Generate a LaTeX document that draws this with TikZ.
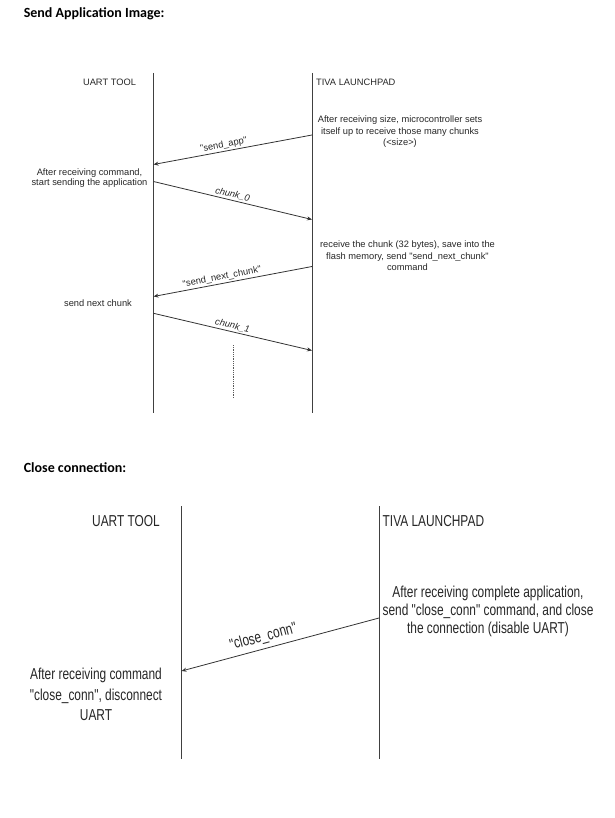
\documentclass[tikz,border=0pt]{standalone}
\usepackage{fontspec}
\setmainfont{Liberation Sans}[Ligatures=TeXOff]
\newfontfamily\headfont{Carlito}
\usepackage{graphicx}
\usetikzlibrary{arrows.meta}

\newcommand{\tallbox}[1]{\scalebox{1}[1.33]{\begin{tabular}{@{}c@{}}#1\end{tabular}}}

\tikzset{
  lifeline/.style={draw=black!75, line width=0.8pt},
  msg/.style={draw=black!80, line width=0.8pt, ->},
  small/.style={font=\fontsize{9.3}{11.5}\selectfont, text=black!85, inner sep=1pt},
  large/.style={font=\fontsize{11.9}{13.5}\selectfont, text=black!85, inner sep=1pt},
  heading/.style={font=\headfont\bfseries\fontsize{14}{16}\selectfont, anchor=west, inner sep=0pt},
  lbl/.style={sloped, above, inner sep=1.5pt}
}

\begin{document}
\begin{tikzpicture}[x=1pt, y=-1pt, >={Stealth[length=5pt,width=4pt]}]
\useasboundingbox (0,0) rectangle (614,818);

%%%%------------Send Application Image----------------%%
\node [heading] (headA) at (23.6,14) {Send Application Image:}			;

\node [small] (uartA) at (109.5,82) {UART TOOL}						;
\node [small, anchor=west] (tivaA) at (315,82) {TIVA LAUNCHPAD}		;

\coordinate (uartAtop) at (153.5,73)	; \coordinate (uartAbot) at (153.5,413)	;
\coordinate (tivaAtop) at (312,73)		; \coordinate (tivaAbot) at (312,413)	;
\draw [lifeline] (uartAtop) -- (uartAbot)								;
\draw [lifeline] (tivaAtop) -- (tivaAbot)								;

\node [small, align=center] (sizeNote) at (400,132)
  {After receiving size, microcontroller sets\\itself up to receive those many chunks\\(<size>)}	;
\coordinate (sendAppA) at (312,135)	; \coordinate (sendAppB) at (153.5,164.5)	;
\draw [msg] (sendAppA) -- node [small, lbl, pos=0.55] {"send\_app"} (sendAppB)	;

\node [small, align=center, font=\fontsize{9.3}{10.8}\selectfont] (startNote) at (89.5,178)
  {After receiving command,\\start sending the application}			;
\coordinate (chunkZeroA) at (153.5,181.5)	; \coordinate (chunkZeroB) at (312,219.5)	;
\draw [msg] (chunkZeroA) -- node [small, lbl, pos=0.49] {\itshape chunk\_0} (chunkZeroB)	;

\node [small, align=center] (chunkNote) at (407.5,255.7)
  {receive the chunk (32 bytes), save into the\\flash memory, send "send\_next\_chunk"\\command}	;
\coordinate (nextA) at (312,266.5)	; \coordinate (nextB) at (153.5,296.5)	;
\draw [msg] (nextA) -- node [small, lbl, pos=0.56] {"send\_next\_chunk"} (nextB)	;

\node [small] (nextNote) at (98,302.7) {send next chunk}					;
\coordinate (chunkOneA) at (153.5,313.3)	; \coordinate (chunkOneB) at (312,350.5)	;
\draw [msg] (chunkOneA) -- node [small, lbl, pos=0.49] {\itshape chunk\_1} (chunkOneB)	;

\coordinate (dotsA) at (233,345)	; \coordinate (dotsB) at (233,398)	;
\draw [black!65, line width=0.8pt, densely dotted] (dotsA) -- (dotsB)	;

%%%%------------Close connection----------------%%
\node [heading] (headB) at (23.6,468) {Close connection:}				;

\node [large] (uartB) at (126,523) {\tallbox{UART TOOL}}				;
\node [large, anchor=west] (tivaB) at (381.5,523.3) {\tallbox{TIVA LAUNCHPAD}}	;

\coordinate (uartBtop) at (181,506)	; \coordinate (uartBbot) at (181,759)	;
\coordinate (tivaBtop) at (379,506)	; \coordinate (tivaBbot) at (379,759)	;
\draw [lifeline] (uartBtop) -- (uartBbot)								;
\draw [lifeline] (tivaBtop) -- (tivaBbot)								;

\node [large] (closeNote) at (488,612)
  {\tallbox{After receiving complete application,\\send "close\_conn" command, and close\\the connection (disable UART)}}	;
\coordinate (closeA) at (379,618)	; \coordinate (closeB) at (181.5,671)	;
\draw [msg] (closeA) -- node [large, lbl, pos=0.57] {\tallbox{"close\_conn"}} (closeB)	;

\node [large, font=\fontsize{11.9}{15.5}\selectfont] (disconnectNote) at (96,696)
  {\tallbox{After receiving command\\"close\_conn", disconnect\\UART}}	;

\end{tikzpicture}
\end{document}
